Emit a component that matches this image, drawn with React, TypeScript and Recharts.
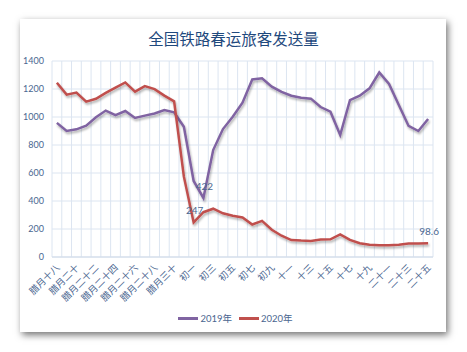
import React from "react";
import {
  LineChart,
  Line,
  XAxis,
  YAxis,
  CartesianGrid,
  Legend,
  LabelList,
} from "recharts";

// 腊月十八 … 正月二十五
const categories = [
  "腊月十八", "腊月十九", "腊月二十", "腊月二十一", "腊月二十二", "腊月二十三",
  "腊月二十四", "腊月二十五", "腊月二十六", "腊月二十七", "腊月二十八", "腊月二十九",
  "腊月三十", "除夕", "初一", "初二", "初三", "初四", "初五", "初六", "初七",
  "初八", "初九", "初十", "十一", "十二", "十三", "十四", "十五", "十六", "十七",
  "十八", "十九", "二十", "二十一", "二十二", "二十三", "二十四", "二十五",
];

const values2019 = [
  958, 900, 912, 938, 998, 1046, 1014, 1043, 993, 1010, 1025, 1050, 1034, 930,
  543, 422, 764, 914, 1002, 1102, 1268, 1276, 1217, 1179, 1152, 1138, 1131, 1071,
  1038, 871, 1121, 1152, 1205, 1318, 1236, 1086, 936, 900, 986,
];

const values2020 = [
  1245, 1160, 1175, 1110, 1130, 1172, 1210, 1247, 1181, 1221, 1199, 1153, 1112,
  574, 247, 320, 345, 312, 295, 282, 232, 258, 195, 152, 121, 117, 115, 125, 126,
  162, 122, 98, 88, 84, 84, 88, 96, 97, 98.6,
];

const yTicks = [0, 200, 400, 600, 800, 1000, 1200, 1400];

// which points carry a value label
const labeled2019 = [15];
const labeled2020 = [14, 38];

const data = categories.map((label, idx) => ({
  idx,
  label,
  v2019: values2019[idx],
  v2020: values2020[idx],
}));

const labelTicks = categories.map((_, i) => i).filter((i) => i % 2 === 0);
const boundaryTicks = [...categories.map((_, i) => i - 0.5), categories.length - 0.5];
const xDomain = [-0.5, categories.length - 0.5];

const PURPLE = "#8064A2";
const RED = "#C0504D";
const GRID = "#DCE5F1";
const TEXT = "#4A6690";
const FONT = "Lato, 'Noto Sans CJK SC', sans-serif";

// vertical grid lines sit on the category boundaries (Excel style)
const gridX = ({ offset }: any) =>
  boundaryTicks.map(
    (t) => offset.left + ((t - xDomain[0]) / (xDomain[1] - xDomain[0])) * offset.width
  );

const AngledTick = ({ x, y, payload }: any) => (
  <text
    x={x + 1}
    y={y + 1}
    dy="0.35em"
    textAnchor="end"
    fontSize={9.5}
    fill={TEXT}
    transform={`rotate(-45 ${x + 1} ${y + 1})`}
  >
    {categories[payload.value]}
  </text>
);

const valueLabel = (shown: number[]) => (props: any) => {
  const { x, y, value, index } = props;
  if (!shown.includes(index)) return null;
  return (
    <text x={x + 1} y={y - 8} textAnchor="middle" fontSize={10} fill={TEXT}>
      {value}
    </text>
  );
};

const LegendContent = () => (
  <div
    style={{
      display: "flex",
      justifyContent: "center",
      alignItems: "center",
      fontSize: 9.5,
      color: TEXT,
      height: 16,
    }}
  >
    {[
      { name: "2019年", color: PURPLE },
      { name: "2020年", color: RED },
    ].map((s, i) => (
      <span
        key={s.name}
        style={{ display: "flex", alignItems: "center", marginLeft: i ? 7 : 0 }}
      >
        <span
          style={{ width: 20, height: 3, background: s.color, display: "inline-block", marginRight: 2 }}
        />
        {s.name}
      </span>
    ))}
  </div>
);

export default function App() {
  return (
    <div
      style={{
        position: "absolute",
        left: 0,
        top: 0,
        width: 467,
        height: 352,
        background: "#fff",
        fontFamily: FONT,
      }}
    >
      <div
        style={{
          position: "absolute",
          left: 20,
          top: 19,
          width: 426,
          height: 313,
          background: "#fff",
          boxShadow: "2px 3px 7px rgba(0,0,0,0.55)",
        }}
      />
      <div
        style={{
          position: "absolute",
          left: 20,
          top: 28,
          width: 427,
          textAlign: "center",
          fontSize: 15.5,
          lineHeight: "20px",
          color: "#1F497D",
          fontFamily: "'Noto Sans CJK SC', sans-serif",
        }}
      >
        全国铁路春运旅客发送量
      </div>
      <div style={{ position: "absolute", left: 0, top: 0 }}>
        <LineChart
          width={467}
          height={352}
          data={data}
          margin={{ top: 61, right: 34, left: 0, bottom: 50 }}
        >
          <defs>
            <filter id="lineShadow" x="-5%" y="-5%" width="110%" height="120%">
              <feDropShadow dx="1" dy="2" stdDeviation="1" floodColor="#000" floodOpacity="0.3" />
            </filter>
          </defs>
          <CartesianGrid stroke={GRID} strokeWidth={1} verticalCoordinatesGenerator={gridX} />
          <XAxis
            type="number"
            dataKey="idx"
            domain={xDomain}
            ticks={labelTicks}
            interval={0}
            tick={<AngledTick />}
            tickLine={false}
            axisLine={{ stroke: "#D0DAE8" }}
            height={45}
          />
          <YAxis
            domain={[0, 1400]}
            ticks={yTicks}
            width={52}
            tickLine={false}
            axisLine={false}
            tick={{ fontSize: 9, fill: TEXT }}
          />
          <Legend
            verticalAlign="middle"
            align="center"
            layout="horizontal"
            content={<LegendContent />}
            wrapperStyle={{ top: 310, left: 2, width: 467 }}
          />
          <Line
            name="2019年"
            dataKey="v2019"
            stroke={PURPLE}
            strokeWidth={2.5}
            dot={false}
            filter="url(#lineShadow)"
            isAnimationActive={false}
          >
            <LabelList dataKey="v2019" content={valueLabel(labeled2019)} />
          </Line>
          <Line
            name="2020年"
            dataKey="v2020"
            stroke={RED}
            strokeWidth={2.5}
            dot={false}
            filter="url(#lineShadow)"
            isAnimationActive={false}
          >
            <LabelList dataKey="v2020" content={valueLabel(labeled2020)} />
          </Line>
        </LineChart>
      </div>
    </div>
  );
}
